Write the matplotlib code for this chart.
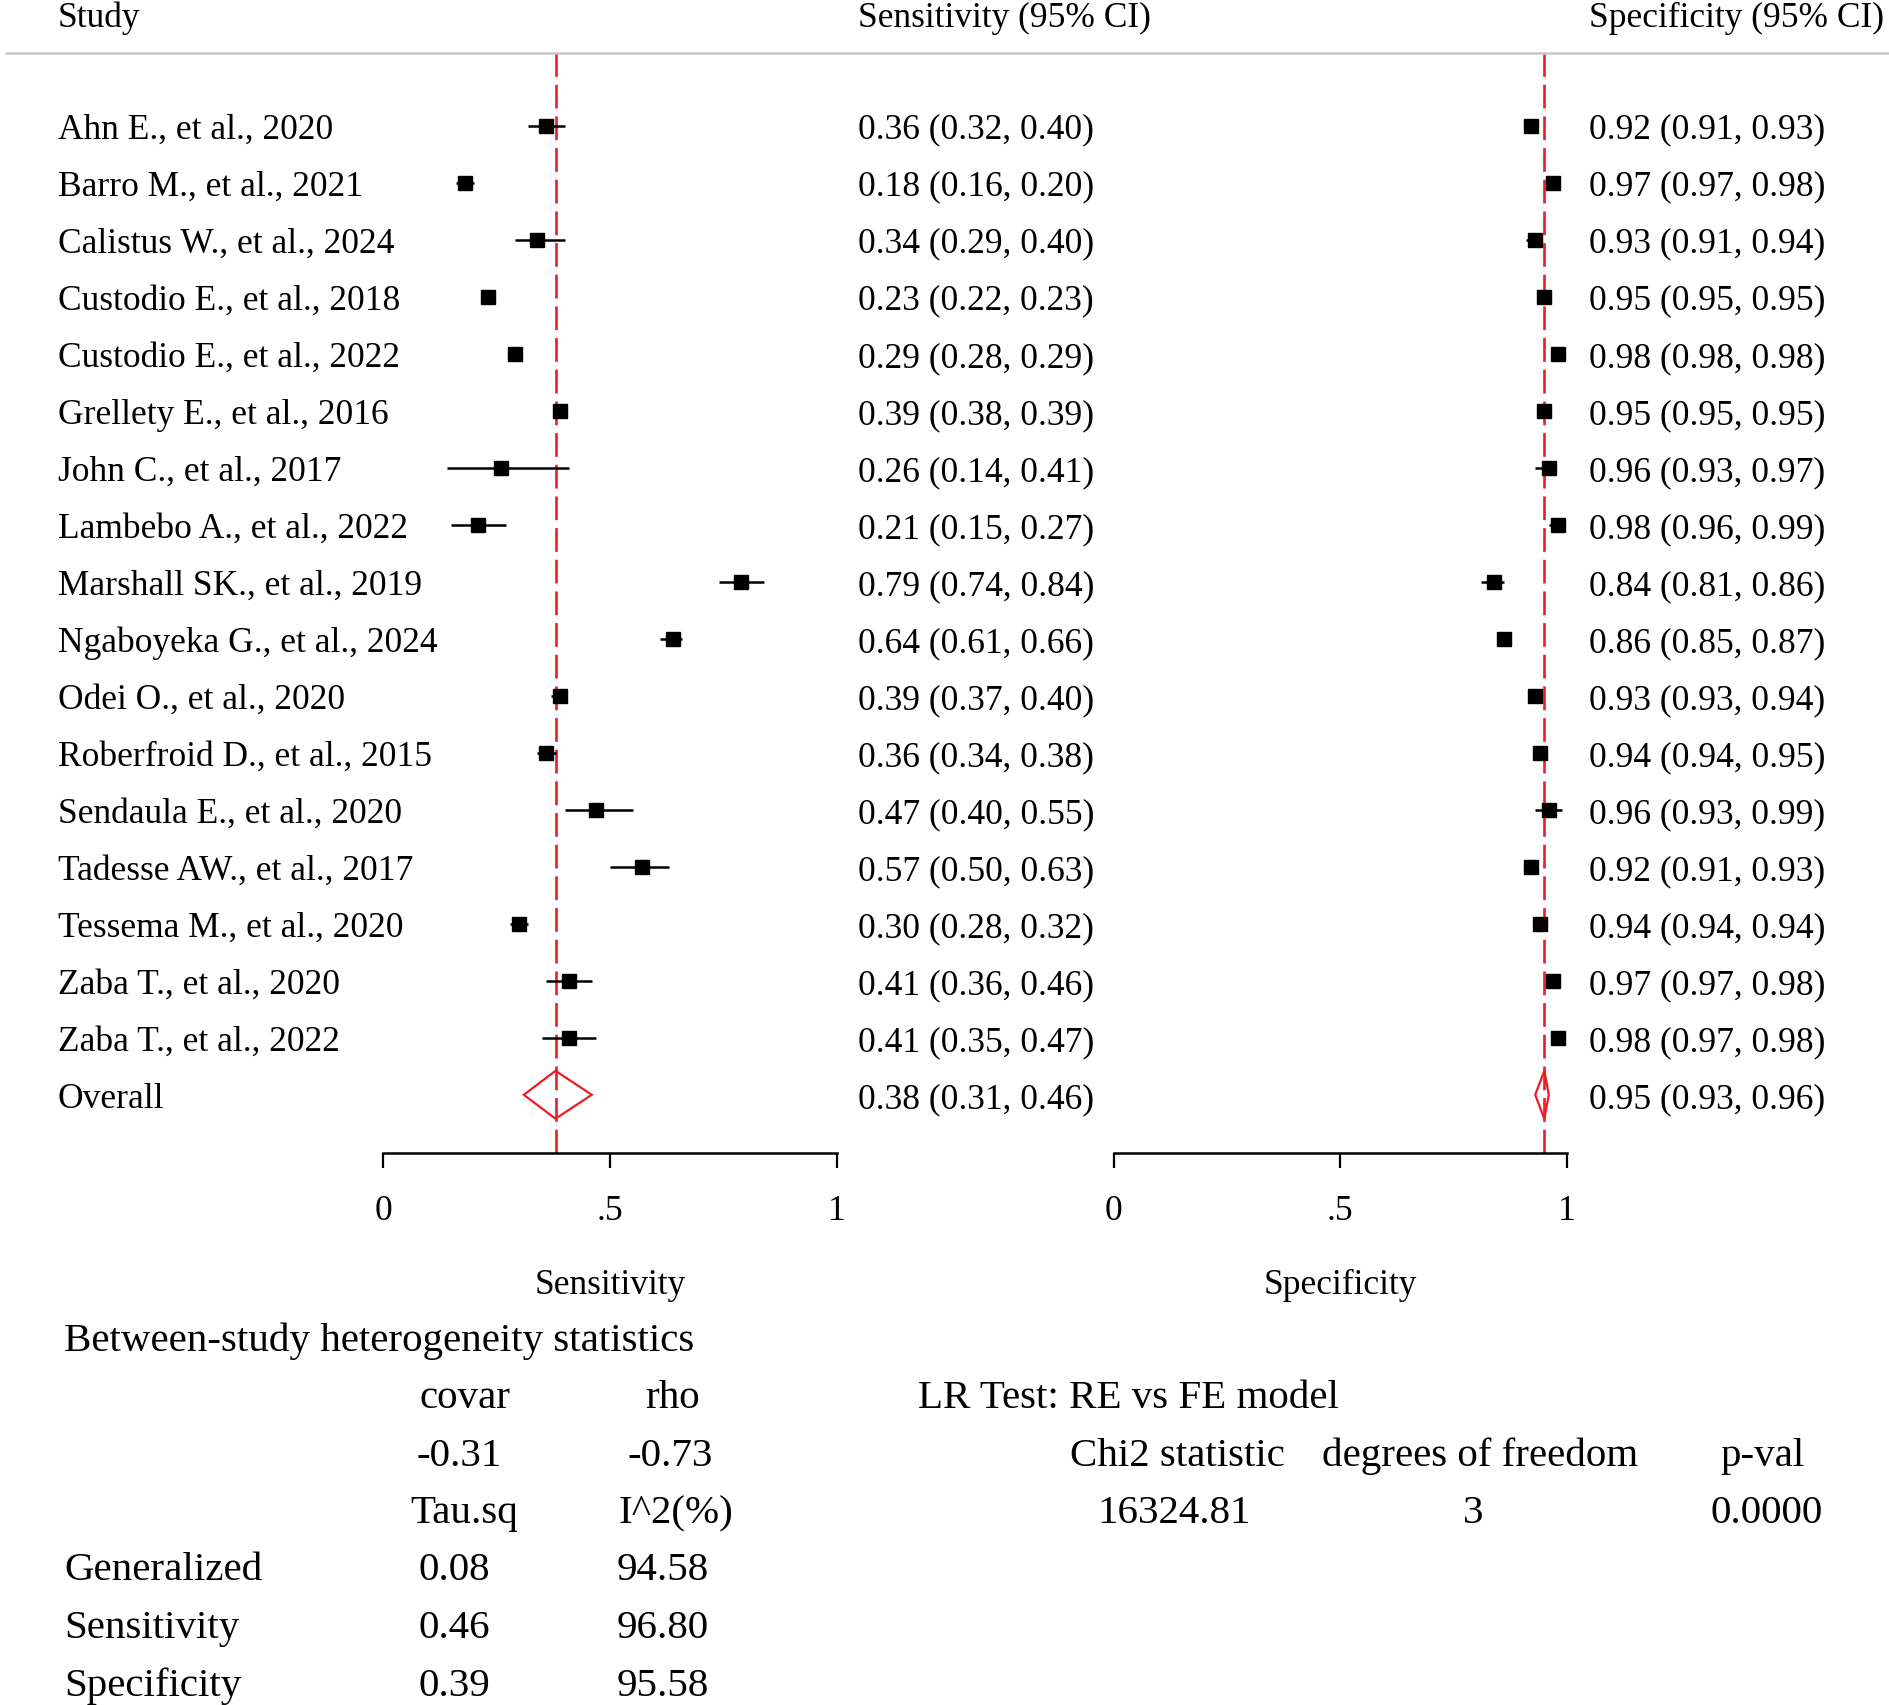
import matplotlib
matplotlib.use("Agg")
import matplotlib.pyplot as plt
from matplotlib.transforms import blended_transform_factory
from matplotlib.patches import Polygon

plt.rcParams['font.family'] = ['Liberation Serif', 'DejaVu Serif']

# data
studies = ["Ahn E., et al., 2020", "Barro M., et al., 2021", "Calistus W., et al., 2024",
           "Custodio E., et al., 2018", "Custodio E., et al., 2022", "Grellety E., et al., 2016",
           "John C., et al., 2017", "Lambebo A., et al., 2022", "Marshall SK., et al., 2019",
           "Ngaboyeka G., et al., 2024", "Odei O., et al., 2020", "Roberfroid D., et al., 2015",
           "Sendaula E., et al., 2020", "Tadesse AW., et al., 2017", "Tessema M., et al., 2020",
           "Zaba T., et al., 2020", "Zaba T., et al., 2022"]
sens = [0.36, 0.18, 0.34, 0.23, 0.29, 0.39, 0.26, 0.21, 0.79, 0.64, 0.39, 0.36, 0.47, 0.57, 0.30, 0.41, 0.41]
sens_lo = [0.32, 0.16, 0.29, 0.22, 0.28, 0.38, 0.14, 0.15, 0.74, 0.61, 0.37, 0.34, 0.40, 0.50, 0.28, 0.36, 0.35]
sens_hi = [0.40, 0.20, 0.40, 0.23, 0.29, 0.39, 0.41, 0.27, 0.84, 0.66, 0.40, 0.38, 0.55, 0.63, 0.32, 0.46, 0.47]
spec = [0.92, 0.97, 0.93, 0.95, 0.98, 0.95, 0.96, 0.98, 0.84, 0.86, 0.93, 0.94, 0.96, 0.92, 0.94, 0.97, 0.98]
spec_lo = [0.91, 0.97, 0.91, 0.95, 0.98, 0.95, 0.93, 0.96, 0.81, 0.85, 0.93, 0.94, 0.93, 0.91, 0.94, 0.97, 0.97]
spec_hi = [0.93, 0.98, 0.94, 0.95, 0.98, 0.95, 0.97, 0.99, 0.86, 0.87, 0.94, 0.95, 0.99, 0.93, 0.94, 0.98, 0.98]
overall_sens = [0.38, 0.31, 0.46]
overall_spec = [0.95, 0.93, 0.96]
tick_vals = [0, 0.5, 1]
tick_labels = ["0", ".5", "1"]

het_cols = ["covar", "rho"]
het_corr = ["-0.31", "-0.73"]
het_cols2 = ["Tau.sq", "I^2(%)"]
het_rows = ["Generalized", "Sensitivity", "Specificity"]
het_tau = ["0.08", "0.46", "0.39"]
het_i2 = ["94.58", "96.80", "95.58"]
lr_cols = ["Chi2 statistic", "degrees of freedom", "p-val"]
lr_vals = ["16324.81", "3", "0.0000"]

W, H = 1890, 1706
S = 1890 / 1568.0   # layout measured on a 1568 px wide copy


def fx(px):
    return px * S / W


def fy(py):
    # +3 px: text centres sit a little low compared to matplotlib's bbox centre
    return 1 - (py + 3) * S / H


fig = plt.figure(figsize=(W / 100, H / 100), dpi=100)

n = len(studies)
ylo, yhi = (957 - 105) / 47.3, (45 - 105) / 47.3
ax_top, ax_bot = 1 - 45 * S / H, 1 - 957 * S / H

fs = 25.5
axes = []
for x0, x1 in [(318, 694), (924, 1300)]:
    ax = fig.add_axes([fx(x0), ax_bot, fx(x1) - fx(x0), ax_top - ax_bot])
    ax.set_xlim(0, 1)
    ax.set_ylim(ylo, yhi)
    for s in ["top", "left", "right"]:
        ax.spines[s].set_visible(False)
    ax.spines["bottom"].set_linewidth(1.8)
    ax.set_yticks([])
    ax.set_xticks(tick_vals)
    ax.set_xticklabels(tick_labels)
    ax.tick_params(axis="x", direction="out", length=10.5, width=1.6, pad=19.5, labelsize=fs)
    ax.patch.set_visible(False)
    axes.append(ax)

rows = list(range(n))
for ax, est, lo, hi, ov, lab in [(axes[0], sens, sens_lo, sens_hi, overall_sens, "Sensitivity"),
                                 (axes[1], spec, spec_lo, spec_hi, overall_spec, "Specificity")]:
    ax.axvline(ov[0], color="#ee1c25", lw=1.9, dashes=(9, 3), zorder=1)
    ax.hlines(rows, lo, hi, color="black", lw=1.8, zorder=2)
    ax.plot(est, rows, "s", color="black", ms=10.5, zorder=3)
    dh = 0.42
    diamond = Polygon([(ov[1], n), (ov[0], n - dh), (ov[2], n), (ov[0], n + dh)],
                      closed=True, fill=False, edgecolor="#ee1c25", lw=1.6, zorder=3)
    ax.add_patch(diamond)
    ax.set_xlabel(lab, fontsize=fs, labelpad=29.5)

# study text columns
tr = blended_transform_factory(fig.transFigure, axes[0].transData)
dy = 0.065
for i, name in enumerate(studies + ["Overall"]):
    if i < n:
        a, b, c = sens[i], sens_lo[i], sens_hi[i]
        d, e, f = spec[i], spec_lo[i], spec_hi[i]
    else:
        a, b, c = overall_sens
        d, e, f = overall_spec
    fig.text(fx(48), i + dy, name, transform=tr, fontsize=fs, va="center", ha="left")
    fig.text(fx(712), i + dy, "%.2f (%.2f, %.2f)" % (a, b, c), transform=tr, fontsize=fs, va="center")
    fig.text(fx(1318), i + dy, "%.2f (%.2f, %.2f)" % (d, e, f), transform=tr, fontsize=fs, va="center")

# header
fig.text(fx(48), fy(12), "Study", fontsize=fs, va="center")
fig.text(fx(712), fy(12), "Sensitivity (95% CI)", fontsize=fs, va="center")
fig.text(fx(1318), fy(12), "Specificity (95% CI)", fontsize=fs, va="center")
fig.add_artist(plt.Line2D([fx(5), 1.0], [ax_top, ax_top], color="#c8c8c8", lw=1.8))

# heterogeneity block
bs = 29.5
fig.text(fx(53), fy(1110), "Between-study heterogeneity statistics", fontsize=bs, va="center")
for txt, x in zip(het_cols, [386, 558]):
    fig.text(fx(x), fy(1157), txt, fontsize=bs, va="center", ha="center")
for txt, x in zip(het_corr, [381, 556]):
    fig.text(fx(x), fy(1205), txt, fontsize=bs, va="center", ha="center")
for txt, x in zip(het_cols2, [385, 561]):
    fig.text(fx(x), fy(1253), txt, fontsize=bs, va="center", ha="center")
for j, (r, t, i2) in enumerate(zip(het_rows, het_tau, het_i2)):
    y = 1300 + 48 * j
    fig.text(fx(53), fy(y), r, fontsize=bs, va="center")
    fig.text(fx(377), fy(y), t, fontsize=bs, va="center", ha="center")
    fig.text(fx(550), fy(y), i2, fontsize=bs, va="center", ha="center")

fig.text(fx(762), fy(1157), "LR Test: RE vs FE model", fontsize=bs, va="center")
for txt, x in zip(lr_cols, [977, 1228, 1462]):
    fig.text(fx(x), fy(1205), txt, fontsize=bs, va="center", ha="center")
for txt, x in zip(lr_vals, [974, 1222, 1466]):
    fig.text(fx(x), fy(1253), txt, fontsize=bs, va="center", ha="center")

fig.savefig("out.png", dpi=100)
